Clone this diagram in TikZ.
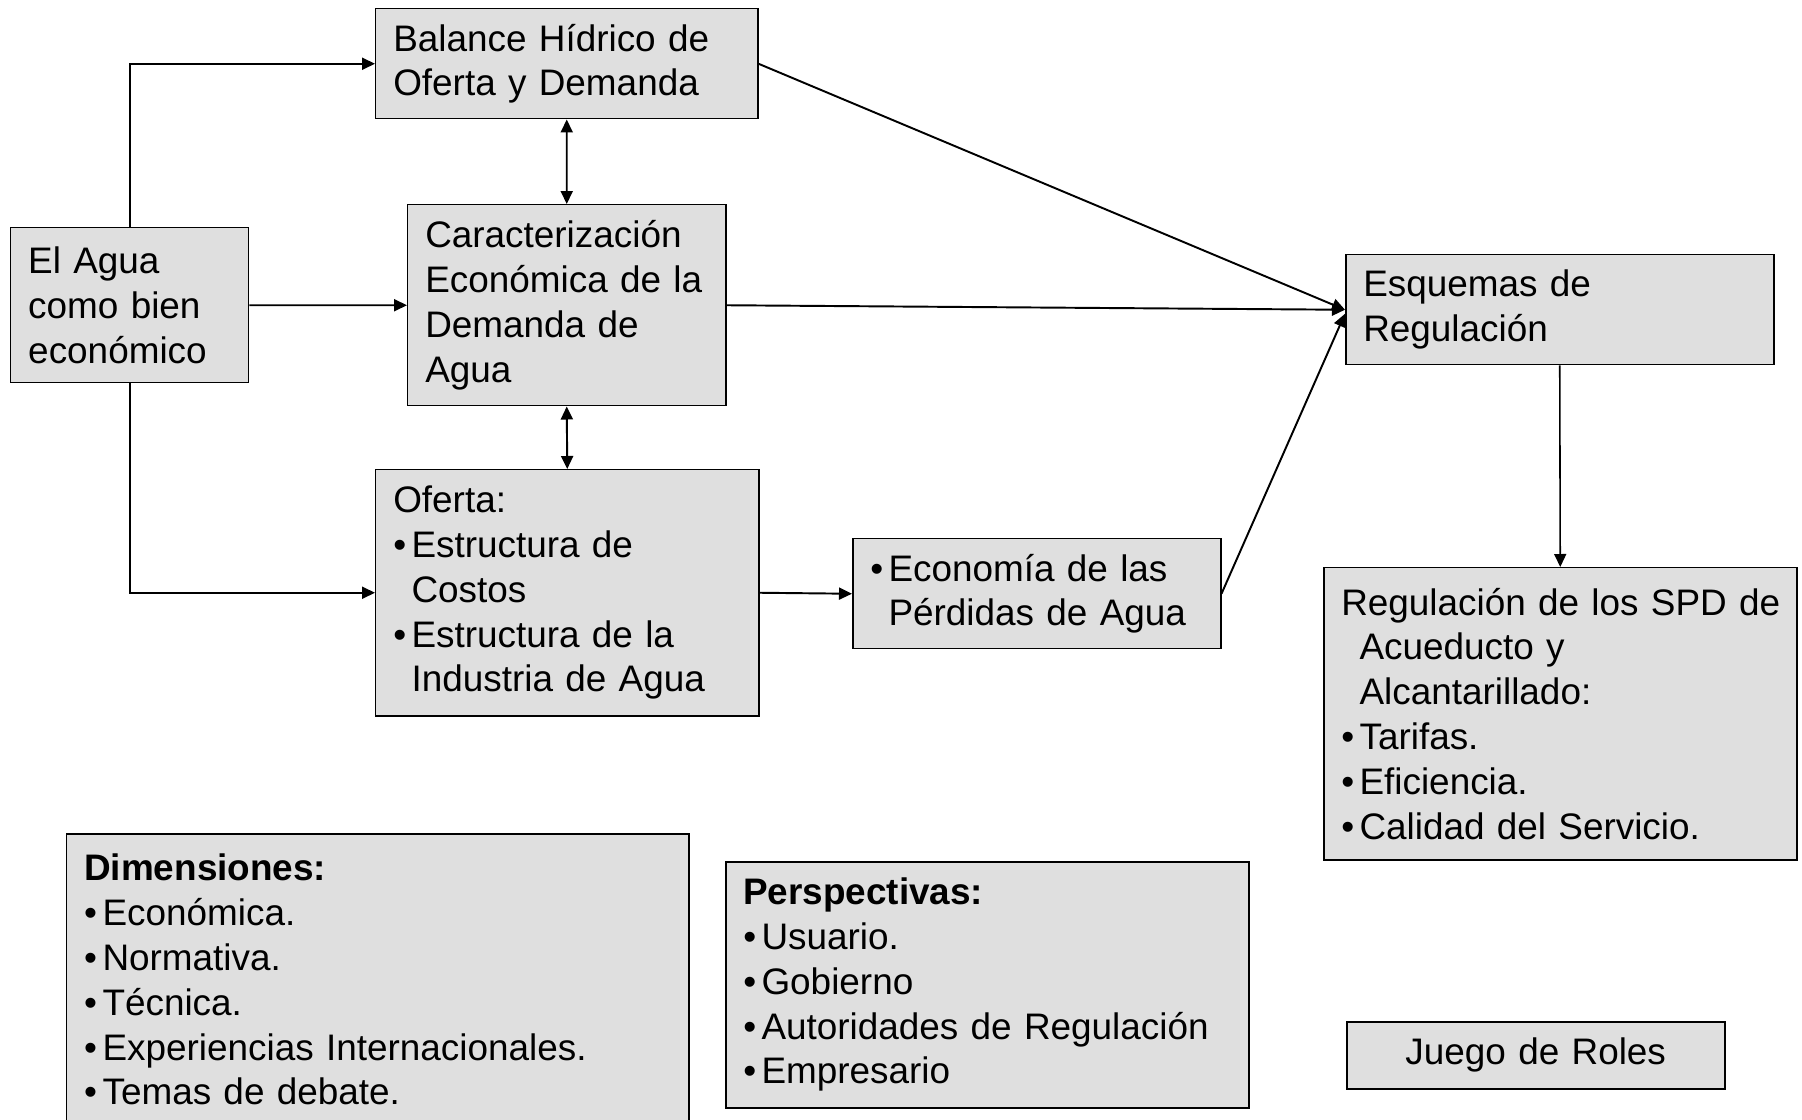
\documentclass[tikz,border=0pt]{standalone}
\usepackage{fontspec}
\setmainfont{Liberation Sans}
\usepackage{tikz}
\usetikzlibrary{positioning, calc, arrows.meta}

\newlength{\bw}
\setlength{\bw}{10.4pt}
\newcommand{\bul}{\makebox[\bw][l]{\textbullet}}

\begin{document}
\begin{tikzpicture}[
  font=\fontsize{21}{25.5}\selectfont,
  >={Triangle[length=0.26cm, width=0.24cm]},
  box/.style={rectangle, draw=black, line width=0.85pt, fill=gray!25,
              anchor=north west, align=left, inner xsep=0.35cm, inner ysep=0pt},
  flow/.style={->, line width=1.1pt, draw=black},
  dflow/.style={<->, line width=1.1pt, draw=black}
]

\useasboundingbox (0,0) rectangle (36.04,-22.4);

% --- Main boxes ---
\node[box, text width=4.06cm, minimum height=3.1cm] (agua) at (0.2,-4.54)
  {El Agua\\como bien\\económico};
\node[box, text width=6.94cm, minimum height=2.2cm] (balance) at (7.5,-0.16)
  {Balance Hídrico de\\Oferta y Demanda};
\node[box, text width=5.66cm, minimum height=4.02cm] (caract) at (8.14,-4.08)
  {Caracterización\\Económica de la\\Demanda de\\Agua};
\node[box, text width=6.96cm, minimum height=4.92cm] (oferta) at (7.5,-9.38)
  {Oferta:\\\bul Estructura de\\\hspace*{\bw}Costos\\\bul Estructura de la\\\hspace*{\bw}Industria de Agua};
\node[box, text width=6.66cm, minimum height=2.2cm] (perdidas) at (17.04,-10.76)
  {\bul Economía de las\\\hspace*{\bw}Pérdidas de Agua};
\node[box, text width=7.86cm, minimum height=2.2cm] (esquemas) at (26.9,-5.08)
  {Esquemas de\\Regulación};
\node[box, text width=8.76cm, minimum height=5.84cm] (spd) at (26.46,-11.34)
  {Regulación~de~los~SPD~de\\\hspace*{\bw}Acueducto y\\\hspace*{\bw}Alcantarillado:\\\bul Tarifas.\\\bul Eficiencia.\\\bul Calidad del Servicio.};

% --- Lower boxes ---
\node[box, text width=11.74cm, minimum height=5.84cm] (dimens) at (1.32,-16.66)
  {\textbf{Dimensiones:}\\\bul Económica.\\\bul Normativa.\\\bul Técnica.\\\bul Experiencias Internacionales.\\\bul Temas de debate.};
\node[box, text width=9.76cm, minimum height=4.92cm] (persp) at (14.5,-17.22)
  {\textbf{Perspectivas:}\\\bul Usuario.\\\bul Gobierno\\\bul Autoridades de Regulación\\\bul Empresario};
\node[box, align=center, text width=6.86cm, minimum height=1.34cm] (roles) at (26.92,-20.42)
  {Juego de Roles};

% --- Arrows ---
\draw[flow] (agua.north) |- (balance.west);
\draw[flow] (agua.east) -- (caract.west);
\draw[flow] (agua.south) |- (oferta.west);

\draw[dflow] (balance.south) -- (caract.north);
\draw[dflow] (caract.south) -- (oferta.north);

\draw[flow] (oferta.east) -- (perdidas.west);

\draw[flow] (balance.east) -- (esquemas.west);
\draw[flow] (caract.east) -- (esquemas.west);
\draw[flow] (perdidas.east) -- ([yshift=-0.08cm]esquemas.west);

\draw[flow, line width=0.9pt] (esquemas.south) -- (spd.north);

\end{tikzpicture}
\end{document}
